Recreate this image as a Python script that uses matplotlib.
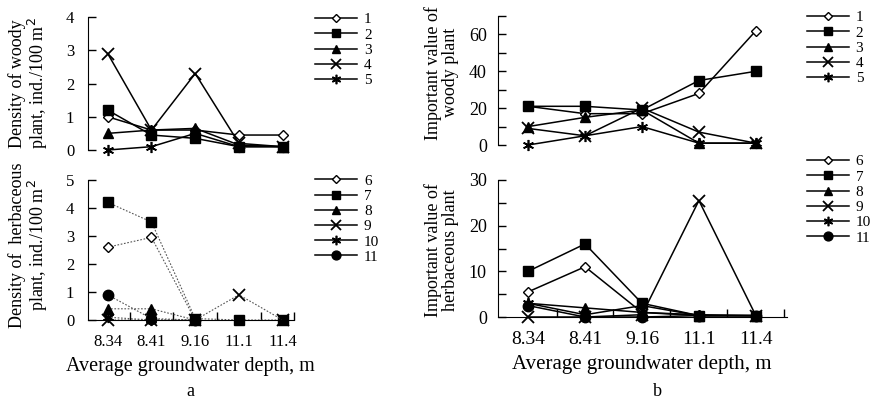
import matplotlib.pyplot as plt
from matplotlib.lines import Line2D

plt.rcParams['font.family'] = ['Liberation Serif', 'DejaVu Serif']
plt.rcParams['font.size'] = 11

depths = ["8.34", "8.41", "9.16", "11.1", "11.4"]

# a, top: density of woody plant (ind./100 m2)
dens_wood_1 = [1.0, 0.6, 0.6, 0.45, 0.45]
dens_wood_2 = [1.2, 0.45, 0.35, 0.1, 0.1]
dens_wood_3 = [0.5, 0.6, 0.65, 0.15, 0.1]
dens_wood_4 = [2.9, 0.6, 2.3, 0.2, 0.1]
dens_wood_5 = [0.0, 0.1, 0.5, 0.1, 0.1]

# a, bottom: density of herbaceous plant
dens_herb_6 = [2.6, 2.95, 0.0]
dens_herb_7 = [4.2, 3.5, 0.05, 0.0, 0.0]
dens_herb_8 = [0.4, 0.4, 0.0]
dens_herb_9 = [0.0, 0.0, 0.0, 0.9, 0.0]
dens_herb_10 = [0.1, 0.0, 0.0]
dens_herb_11 = [0.9, 0.05, 0.0]

# b, top: important value of woody plant
iv_wood_1 = [21, 17, 17, 28, 62]
iv_wood_2 = [21, 21, 19, 35, 40]
iv_wood_3 = [10, 15, 19, 1, 1]
iv_wood_4 = [9, 5, 20, 7, 1]
iv_wood_5 = [0, 5, 10, 1, 1]

# b, bottom: important value of herbaceous plant
iv_herb_6 = [5.5, 11, 1, 0.5, 0.3]
iv_herb_7 = [10, 16, 3, 0.3, 0.3]
iv_herb_8 = [3, 2, 1, 0.3, 0.3]
iv_herb_9 = [0, 0, 0.5, 25.5, 0.3]
iv_herb_10 = [3, 0.5, 2.5, 0.3, 0.3]
iv_herb_11 = [2.5, 0, 0, 0.3, 0.3]

markers = {
    "1": dict(marker="D", mfc="white", ms=5),
    "2": dict(marker="s", mfc="black", ms=7.5),
    "3": dict(marker="^", mfc="black", ms=7.5),
    "4": dict(marker="x", mfc="black", ms=8, mew=1.3),
    "5": dict(marker=(6, 2, 0), mfc="black", ms=8, mew=1.2),
    "6": dict(marker="D", mfc="white", ms=5),
    "7": dict(marker="s", mfc="black", ms=7.5),
    "8": dict(marker="^", mfc="black", ms=7.5),
    "9": dict(marker="x", mfc="black", ms=8, mew=1.3),
    "10": dict(marker=(6, 2, 0), mfc="black", ms=8, mew=1.2),
    "11": dict(marker="o", mfc="black", ms=7.5),
}

fig = plt.figure(figsize=(8.75, 4), dpi=100)

ax_a1 = fig.add_axes([0.1006, 0.625, 0.235, 0.3325])
ax_a2 = fig.add_axes([0.1006, 0.20, 0.235, 0.35])
ax_b1 = fig.add_axes([0.569, 0.6375, 0.33, 0.3225])
ax_b2 = fig.add_axes([0.569, 0.2075, 0.33, 0.3425])


def draw(ax, series, names, ls="-", lw=1.1, color="black"):
    handles = []
    for vals, name in zip(series, names):
        ax.plot(range(len(vals)), vals, ls=ls, lw=lw, color=color,
                mec="black", clip_on=False, **markers[name])
        style = dict(markers[name])
        style["ms"] = style["ms"] * 0.85
        handles.append(Line2D([], [], color="black", lw=1.1, mec="black", **style))
    return handles


h1 = draw(ax_a1, [dens_wood_1, dens_wood_2, dens_wood_3, dens_wood_4, dens_wood_5],
          ["1", "2", "3", "4", "5"])
h2 = draw(ax_a2, [dens_herb_6, dens_herb_7, dens_herb_8, dens_herb_9, dens_herb_10,
                  dens_herb_11],
          ["6", "7", "8", "9", "10", "11"], ls=(0, (1.5, 1.5)), lw=0.8, color="#555555")
h3 = draw(ax_b1, [iv_wood_1, iv_wood_2, iv_wood_3, iv_wood_4, iv_wood_5],
          ["1", "2", "3", "4", "5"])
h4 = draw(ax_b2, [iv_herb_6, iv_herb_7, iv_herb_8, iv_herb_9, iv_herb_10, iv_herb_11],
          ["6", "7", "8", "9", "10", "11"])

for ax in [ax_a1, ax_a2, ax_b1, ax_b2]:
    ax.spines["top"].set_visible(False)
    ax.spines["right"].set_visible(False)
    ax.tick_params(direction="in", length=6, width=1, labelsize=12)
    ax.patch.set_alpha(0)

ax_a1.tick_params(axis="y", pad=10)
ax_a2.tick_params(axis="y", pad=10)
ax_b1.tick_params(axis="y", pad=8, labelsize=13)
ax_b2.tick_params(axis="y", pad=8, labelsize=13)

ax_a1.set_xlim(-0.45, 4.25)
ax_a2.set_xlim(-0.45, 4.25)
ax_b1.set_xlim(-0.53, 4.54)
ax_b2.set_xlim(-0.53, 4.54)

ax_a1.set_ylim(0, 4)
ax_a1.set_yticks([0, 1, 2, 3, 4])
ax_a2.set_ylim(0, 5)
ax_a2.set_yticks([0, 1, 2, 3, 4, 5])
ax_b1.set_ylim(0, 70)
ax_b1.set_yticks([0, 10, 20, 30, 40, 50, 60, 70])
ax_b1.set_yticklabels(["0", "", "20", "", "40", "", "60", ""])
ax_b2.set_ylim(0, 30)
ax_b2.set_yticks([0, 5, 10, 15, 20, 25, 30])
ax_b2.set_yticklabels(["0", "", "10", "", "20", "", "30"])

for ax in [ax_a1, ax_b1]:
    ax.spines["bottom"].set_visible(False)
    ax.set_xticks([])

for ax, size, xsize in [(ax_a2, 12, 14.5), (ax_b2, 14, 15)]:
    ax.set_xticks([0.5, 1.5, 2.5, 3.5, 4.5 if ax is ax_b2 else 4.25])
    ax.set_xticklabels([])
    ax.set_xticks(range(5), minor=True)
    ax.set_xticklabels(depths, minor=True)
    ax.tick_params(axis="x", which="minor", length=0, pad=10, labelsize=size)
    ax.set_xlabel("Average groundwater depth, m", fontsize=xsize, labelpad=5)

ax_a1.set_ylabel("Density of woody\nplant, ind./100 m$^2$", fontsize=13,
                 linespacing=1.0)
ax_a2.set_ylabel("Density of  herbaceous\nplant, ind./100 m$^2$", fontsize=13,
                 linespacing=1.0)
ax_b1.set_ylabel("Important value of\nwoody plant", fontsize=13, linespacing=1.0)
ax_b2.set_ylabel("Important value of\nherbaceous plant", fontsize=13, linespacing=1.0)
ax_a1.yaxis.set_label_coords(-0.185, 0.5)
ax_a2.yaxis.set_label_coords(-0.185, 0.535)
ax_b1.yaxis.set_label_coords(-0.135, 0.56)
ax_b2.yaxis.set_label_coords(-0.135, 0.49)

leg_kw = dict(frameon=False, handlelength=2.75, handletextpad=0.45, labelspacing=0.1,
              fontsize=11, borderaxespad=0, borderpad=0)
fig.legend(h1, ["1", "2", "3", "4", "5"], loc="upper left",
           bbox_to_anchor=(0.36, 0.968), **leg_kw)
fig.legend(h2, ["6", "7", "8", "9", "10", "11"], loc="upper left",
           bbox_to_anchor=(0.36, 0.565), **leg_kw)
fig.legend(h3, ["1", "2", "3", "4", "5"], loc="upper left",
           bbox_to_anchor=(0.922, 0.973), **leg_kw)
fig.legend(h4, ["6", "7", "8", "9", "10", "11"], loc="upper left",
           bbox_to_anchor=(0.922, 0.613), **leg_kw)

fig.text(0.218, 0.01, "a", fontsize=13, ha="center")
fig.text(0.751, 0.01, "b", fontsize=13, ha="center")

fig.savefig("out.png", dpi=100)
